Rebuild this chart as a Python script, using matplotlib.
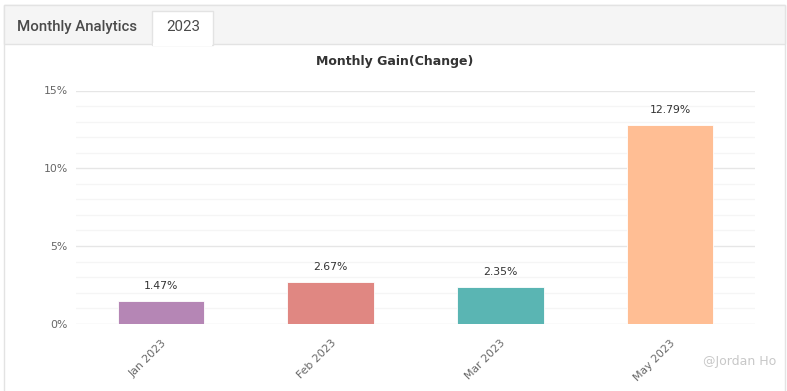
import matplotlib
matplotlib.use("Agg")
import matplotlib.pyplot as plt
import matplotlib.patches as patches
from matplotlib.ticker import MultipleLocator, FuncFormatter

# data
months = ["Jan 2023", "Feb 2023", "Mar 2023", "May 2023"]
gains = [1.47, 2.67, 2.35, 12.79]
bar_colors = ["#b586b5", "#e08782", "#5ab5b3", "#ffbe94"]
tab_labels = ["Monthly Analytics", "2023"]
chart_title = "Monthly Gain(Change)"

W, H = 787, 391


def fx(px):
    return px / W


def fy(py):
    # pixel y from top -> figure fraction from bottom
    return 1 - py / H


def add_rect(fig, x0, y0, x1, y1, **kw):
    r = patches.Rectangle((fx(x0), fy(y1)), fx(x1) - fx(x0), fy(y0) - fy(y1),
                          transform=fig.transFigure, **kw)
    fig.add_artist(r)
    return r


fig = plt.figure(figsize=(W / 100, H / 100), dpi=100)
fig.patch.set_facecolor("white")

# panel and tab bar
add_rect(fig, 4, 5, 785, 392, facecolor="white", edgecolor="#e3e3e3", linewidth=1, zorder=0)
add_rect(fig, 4, 5, 785, 44, facecolor="#f5f5f5", edgecolor="#e3e3e3", linewidth=1, zorder=1)
add_rect(fig, 152, 11, 213, 45, facecolor="white", edgecolor="#e3e3e3", linewidth=1, zorder=2)
add_rect(fig, 153, 43, 212, 46, facecolor="white", edgecolor="none", zorder=3)
fig.text(fx(77), fy(27), tab_labels[0], ha="center", va="center", fontsize=10.8,
         color="#4a4a4a", family="Roboto", fontweight="medium", zorder=4)
fig.text(fx(183), fy(27), tab_labels[1], ha="center", va="center", fontsize=10.8,
         color="#4a4a4a", family="Roboto", zorder=4)

ax = fig.add_axes([fx(76), fy(323.7), fx(755) - fx(76), fy(90.5) - fy(323.7)])
ax.set_facecolor("none")

x = list(range(len(months)))
bars = ax.bar(x, gains, width=0.51, color=bar_colors, edgecolor="white", linewidth=0.6, zorder=3)
for rect, g in zip(bars, gains):
    ax.annotate(f"{g:.2f}%", (rect.get_x() + rect.get_width() / 2, g),
                xytext=(0, 7), textcoords="offset points", ha="center", va="bottom",
                fontsize=7.8, color="#333333", family="DejaVu Sans")

ax.set_xlim(-0.5, len(months) - 0.5)
ax.set_ylim(0, 15)
ax.yaxis.set_major_locator(MultipleLocator(5))
ax.yaxis.set_minor_locator(MultipleLocator(1))
ax.yaxis.set_major_formatter(FuncFormatter(lambda v, p: f"{v:.0f}%"))
ax.grid(axis="y", which="major", color="#e6e6e6", linewidth=1, zorder=0)
ax.grid(axis="y", which="minor", color="#f5f5f5", linewidth=1, zorder=0)
ax.set_axisbelow(True)
for s in ax.spines.values():
    s.set_visible(False)
ax.tick_params(axis="y", which="both", length=0, pad=6, labelsize=7.8, labelcolor="#666666")
ax.tick_params(axis="x", length=0, pad=10, labelsize=7.8, labelcolor="#666666")
ax.set_xticks(x)
ax.set_xticklabels(months, rotation=45, ha="right", rotation_mode="anchor")

fig.text(fx(395), fy(62), chart_title, ha="center", va="center", fontsize=9,
         fontweight="bold", color="#333333")

fig.text(fx(740), fy(362), "@Jordan Ho", ha="center", va="center", fontsize=9,
         color="#c8c8c8", family="DejaVu Sans")

fig.savefig("out.png", dpi=100)
